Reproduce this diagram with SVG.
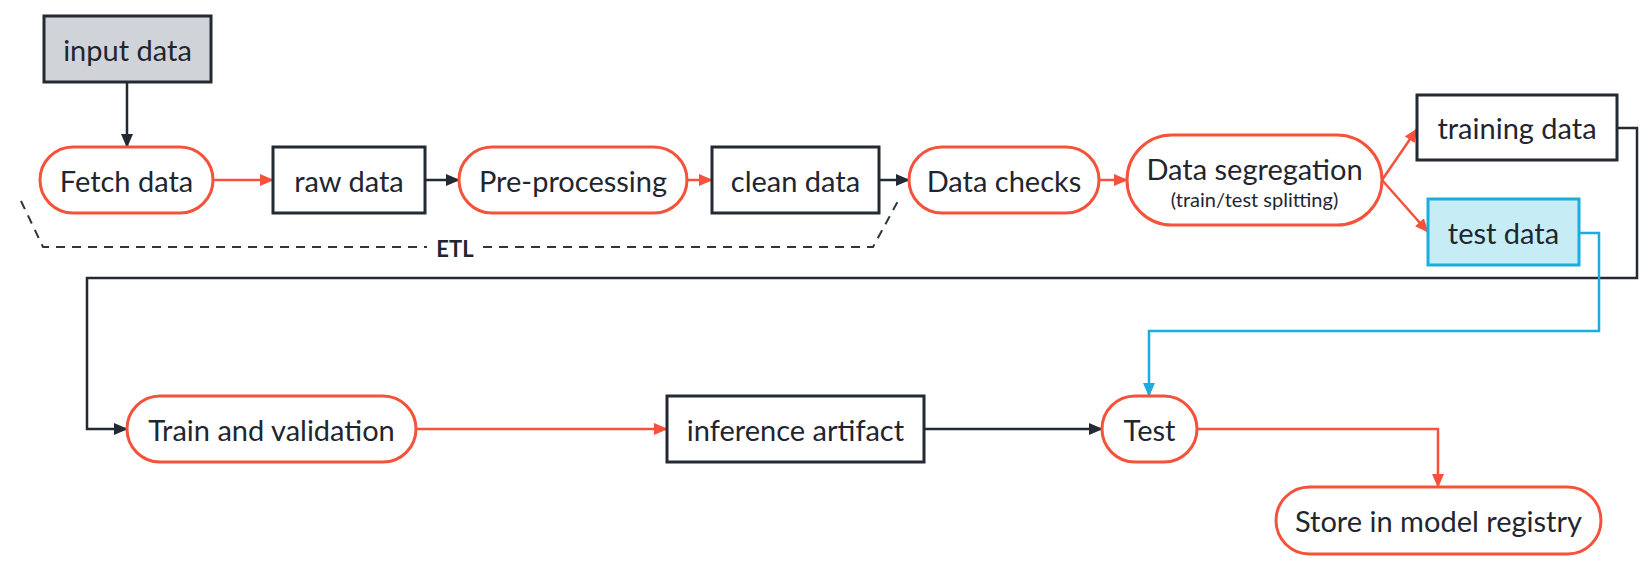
<svg xmlns="http://www.w3.org/2000/svg" width="1648" height="582" viewBox="0 0 1648 582">
<style>
.t{font-family:Lato,"Open Sans","Liberation Sans",sans-serif;font-size:29px;fill:#1f2630;text-anchor:middle;dominant-baseline:central}
.s{font-size:20px}
.proc{fill:#ffffff;stroke:#f4523a;stroke-width:3}
.data{fill:#ffffff;stroke:#232a33;stroke-width:3}
.inp{fill:#d0d4d9;stroke:#232a33;stroke-width:3}
.tst{fill:#c6ecf6;stroke:#1badde;stroke-width:3}
.cr{fill:none;stroke:#f4523a;stroke-width:2.5}
.cd{fill:none;stroke:#232a33;stroke-width:2.5}
.cb{fill:none;stroke:#1badde;stroke-width:2.5}
.etl{fill:none;stroke:#2e3640;stroke-width:2;stroke-dasharray:9 7}
.etlt{font-family:Lato,"Open Sans","Liberation Sans",sans-serif;font-size:22px;font-weight:bold;fill:#1f2630;text-anchor:middle;dominant-baseline:central}
</style>
<defs>
<marker id="ar" markerWidth="14" markerHeight="12" refX="13" refY="6" orient="auto" markerUnits="userSpaceOnUse"><path d="M0,0 L14,6 L0,12 z" fill="#f4523a"/></marker>
<marker id="ad" markerWidth="14" markerHeight="12" refX="13" refY="6" orient="auto" markerUnits="userSpaceOnUse"><path d="M0,0 L14,6 L0,12 z" fill="#232a33"/></marker>
<marker id="ab" markerWidth="14" markerHeight="12" refX="13" refY="6" orient="auto" markerUnits="userSpaceOnUse"><path d="M0,0 L14,6 L0,12 z" fill="#1badde"/></marker>
</defs>
<rect width="1648" height="582" fill="#ffffff"/>

<g id="etl">
<path class="etl" d="M21,201 L43,247 L427,247"/>
<path class="etl" d="M483,247 L873,247 L898,201"/>
<text class="etlt" x="455" y="248">ETL</text>
</g>

<g id="connectors">
<path class="cd" d="M127,82 L127,147" marker-end="url(#ad)"/>
<path class="cr" d="M213,180 L273,180" marker-end="url(#ar)"/>
<path class="cd" d="M425,180 L459,180" marker-end="url(#ad)"/>
<path class="cr" d="M687,180 L712,180" marker-end="url(#ar)"/>
<path class="cd" d="M879,180 L909,180" marker-end="url(#ad)"/>
<path class="cr" d="M1099,180 L1127,180" marker-end="url(#ar)"/>
<path class="cr" d="M1382,180 L1417,129" marker-end="url(#ar)"/>
<path class="cr" d="M1382,180 L1428,232" marker-end="url(#ar)"/>
<path class="cd" d="M1617,128 L1637,128 L1637,278 L87,278 L87,429 L127,429" marker-end="url(#ad)"/>
<path class="cb" d="M1579,233 L1599,233 L1599,331 L1149,331 L1149,396" marker-end="url(#ab)"/>
<path class="cr" d="M416,429 L667,429" marker-end="url(#ar)"/>
<path class="cd" d="M924,429 L1102,429" marker-end="url(#ad)"/>
<path class="cr" d="M1197,429 L1438,429 L1438,487" marker-end="url(#ar)"/>
</g>

<g id="input-data"><rect class="inp" x="44" y="16" width="167" height="66"/><text class="t" x="127.5" y="49">input data</text></g>
<g id="fetch-data"><rect class="proc" x="40" y="147" width="173" height="66" rx="33"/><text class="t" x="126.5" y="180">Fetch data</text></g>
<g id="raw-data"><rect class="data" x="273" y="147" width="152" height="66"/><text class="t" x="349" y="180">raw data</text></g>
<g id="pre-processing"><rect class="proc" x="459" y="147" width="228" height="66" rx="33"/><text class="t" x="573" y="180">Pre-processing</text></g>
<g id="clean-data"><rect class="data" x="712" y="147" width="167" height="66"/><text class="t" x="795.5" y="180">clean data</text></g>
<g id="data-checks"><rect class="proc" x="909" y="147" width="190" height="66" rx="33"/><text class="t" x="1004" y="180">Data checks</text></g>
<g id="data-segregation"><rect class="proc" x="1127" y="135" width="255" height="90" rx="45"/><text class="t" x="1254.5" y="168">Data segregation</text><text class="t s" x="1254.5" y="199">(train/test splitting)</text></g>
<g id="training-data"><rect class="data" x="1417" y="95" width="200" height="65"/><text class="t" x="1517" y="127">training data</text></g>
<g id="test-data"><rect class="tst" x="1428" y="199" width="151" height="66"/><text class="t" x="1503.5" y="232">test data</text></g>
<g id="train-validation"><rect class="proc" x="127" y="396" width="289" height="66" rx="33"/><text class="t" x="271.5" y="429">Train and validation</text></g>
<g id="inference-artifact"><rect class="data" x="667" y="396" width="257" height="66"/><text class="t" x="795.5" y="429">inference artifact</text></g>
<g id="test"><rect class="proc" x="1102" y="396" width="95" height="66" rx="33"/><text class="t" x="1149.5" y="429">Test</text></g>
<g id="store"><rect class="proc" x="1276" y="487" width="325" height="67" rx="33.5"/><text class="t" x="1438.5" y="520.5">Store in model registry</text></g>
</svg>
